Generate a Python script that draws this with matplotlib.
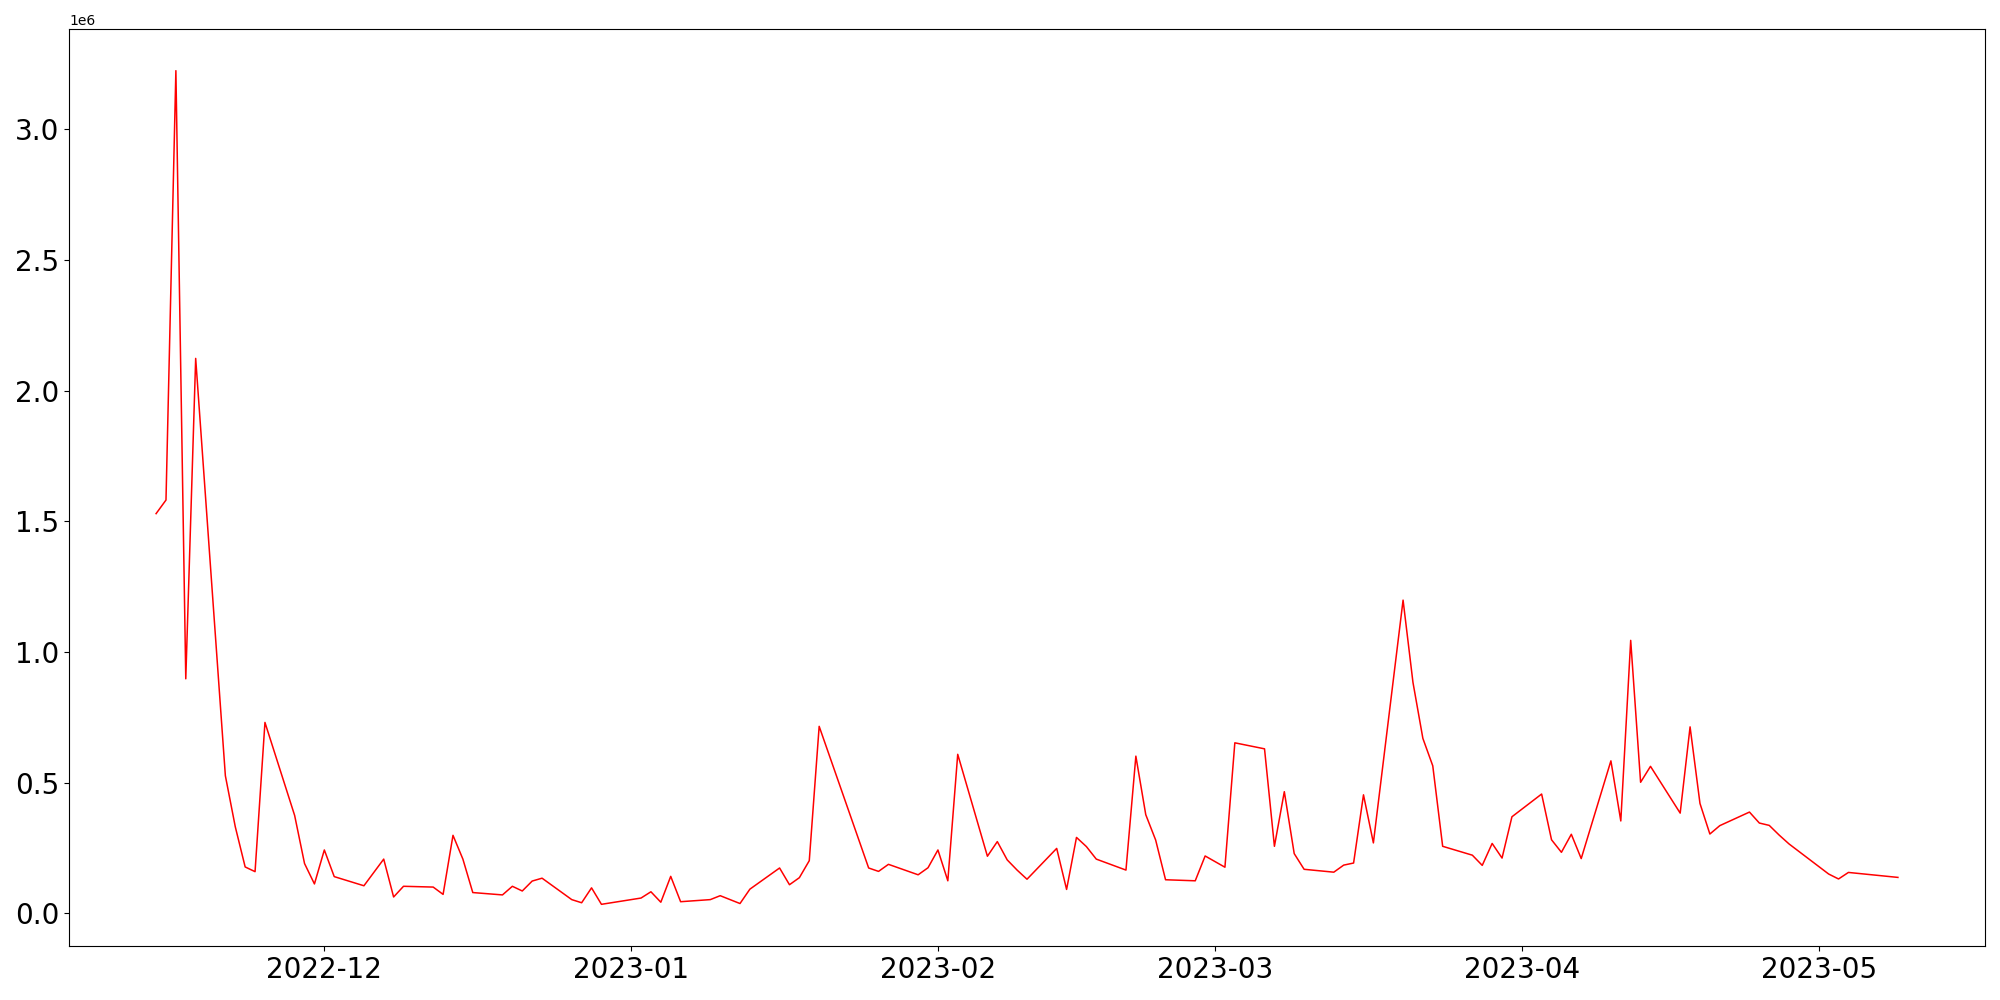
import numpy as np
import pandas as pd
import matplotlib
matplotlib.use("Agg")
import matplotlib.pyplot as plt

dates = [
    "2022-11-14", "2022-11-15", "2022-11-16", "2022-11-17", "2022-11-18",
    "2022-11-21", "2022-11-22", "2022-11-23", "2022-11-24", "2022-11-25",
    "2022-11-28", "2022-11-29", "2022-11-30", "2022-12-01", "2022-12-02",
    "2022-12-05", "2022-12-07", "2022-12-08", "2022-12-09",
    "2022-12-12", "2022-12-13", "2022-12-14", "2022-12-15", "2022-12-16",
    "2022-12-19", "2022-12-20", "2022-12-21", "2022-12-22", "2022-12-23",
    "2022-12-26", "2022-12-27", "2022-12-28", "2022-12-29",
    "2023-01-02", "2023-01-03", "2023-01-04", "2023-01-05", "2023-01-06",
    "2023-01-09", "2023-01-10", "2023-01-12", "2023-01-13",
    "2023-01-16", "2023-01-17", "2023-01-18", "2023-01-19", "2023-01-20",
    "2023-01-25", "2023-01-26", "2023-01-27",
    "2023-01-30", "2023-01-31", "2023-02-01", "2023-02-02", "2023-02-03",
    "2023-02-06", "2023-02-07", "2023-02-08", "2023-02-09", "2023-02-10",
    "2023-02-13", "2023-02-14", "2023-02-15", "2023-02-16", "2023-02-17",
    "2023-02-20", "2023-02-21", "2023-02-22", "2023-02-23", "2023-02-24",
    "2023-02-27", "2023-02-28", "2023-03-02", "2023-03-03",
    "2023-03-06", "2023-03-07", "2023-03-08", "2023-03-09", "2023-03-10",
    "2023-03-13", "2023-03-14", "2023-03-15", "2023-03-16", "2023-03-17",
    "2023-03-20", "2023-03-21", "2023-03-22", "2023-03-23", "2023-03-24",
    "2023-03-27", "2023-03-28", "2023-03-29", "2023-03-30", "2023-03-31",
    "2023-04-03", "2023-04-04", "2023-04-05", "2023-04-06", "2023-04-07",
    "2023-04-10", "2023-04-11", "2023-04-12", "2023-04-13", "2023-04-14",
    "2023-04-17", "2023-04-18", "2023-04-19", "2023-04-20", "2023-04-21",
    "2023-04-24", "2023-04-25", "2023-04-26", "2023-04-27", "2023-04-28",
    "2023-05-02", "2023-05-03", "2023-05-04", "2023-05-09",
]

volume = [
    1.530, 1.582, 3.225, 0.898, 2.124,
    0.527, 0.332, 0.178, 0.160, 0.731,
    0.375, 0.191, 0.113, 0.243, 0.141,
    0.106, 0.208, 0.063, 0.104,
    0.101, 0.073, 0.299, 0.208, 0.080,
    0.071, 0.104, 0.086, 0.124, 0.135,
    0.053, 0.041, 0.098, 0.035,
    0.059, 0.083, 0.043, 0.142, 0.045,
    0.053, 0.068, 0.038, 0.093,
    0.174, 0.110, 0.137, 0.202, 0.716,
    0.174, 0.161, 0.188,
    0.148, 0.175, 0.243, 0.125, 0.609,
    0.219, 0.275, 0.205, 0.166, 0.131,
    0.249, 0.092, 0.291, 0.256, 0.208,
    0.166, 0.602, 0.378, 0.281, 0.129,
    0.125, 0.220, 0.177, 0.653,
    0.630, 0.257, 0.466, 0.229, 0.169,
    0.158, 0.185, 0.193, 0.454, 0.270,
    1.199, 0.884, 0.670, 0.565, 0.257,
    0.223, 0.184, 0.268, 0.212, 0.370,
    0.457, 0.282, 0.234, 0.303, 0.210,
    0.584, 0.354, 1.045, 0.502, 0.563,
    0.384, 0.714, 0.421, 0.304, 0.336,
    0.388, 0.346, 0.337, 0.300, 0.266,
    0.151, 0.132, 0.157, 0.138,
]

x = pd.to_datetime(dates)
y = np.array(volume) * 1e6

fig, ax = plt.subplots(figsize=(20, 10), dpi=100)
ax.plot(x, y, color="red", linewidth=1.1)
plt.xticks(fontsize=20)
plt.yticks(fontsize=20)
fig.subplots_adjust(left=0.0345, right=0.9925, top=0.971, bottom=0.054)
plt.savefig("out.png")
